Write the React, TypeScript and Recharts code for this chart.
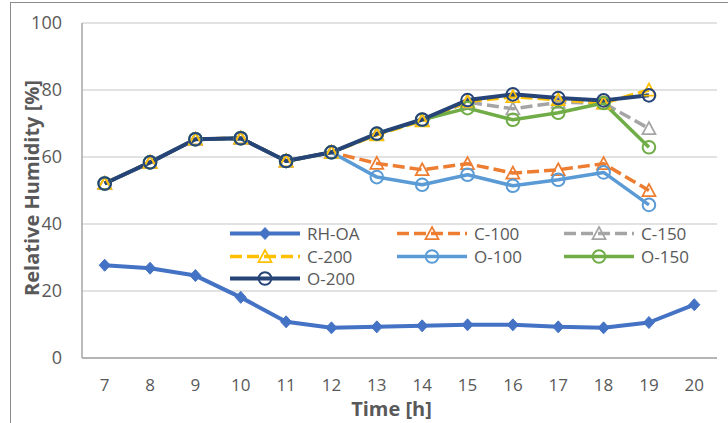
import React from 'react';
import { LineChart, Line, XAxis, YAxis, CartesianGrid, Legend } from 'recharts';

const hours = [7, 8, 9, 10, 11, 12, 13, 14, 15, 16, 17, 18, 19, 20];
const rhOA = [27.7, 26.8, 24.6, 18.1, 10.8, 9.0, 9.3, 9.6, 9.9, 9.9, 9.3, 9.0, 10.6, 15.9];
const c100 = [52.1, 58.4, 65.3, 65.6, 58.8, 61.4, 58.1, 56.2, 58.0, 55.2, 56.2, 58.0, 50.0, null];
const c150 = [52.1, 58.4, 65.3, 65.6, 58.8, 61.4, 66.8, 71.0, 76.4, 74.4, 76.3, 76.1, 68.5, null];
const c200 = [52.1, 58.4, 65.3, 65.6, 58.8, 61.4, 66.6, 70.8, 76.6, 78.0, 77.1, 76.1, 80.0, null];
const o100 = [52.1, 58.4, 65.3, 65.6, 58.8, 61.4, 54.0, 51.7, 54.7, 51.4, 53.2, 55.4, 45.7, null];
const o150 = [52.1, 58.4, 65.3, 65.6, 58.8, 61.4, 66.9, 71.1, 74.6, 71.1, 73.2, 76.1, 62.9, null];
const o200 = [52.1, 58.4, 65.3, 65.6, 58.8, 61.4, 67.0, 71.2, 77.0, 78.7, 77.6, 76.9, 78.4, null];
const yTicks = [0, 20, 40, 60, 80, 100];

const data = hours.map((h, i) => ({
  hour: h,
  'RH-OA': rhOA[i],
  'C-100': c100[i],
  'C-150': c150[i],
  'C-200': c200[i],
  'O-100': o100[i],
  'O-150': o150[i],
  'O-200': o200[i],
}));

type Marker = 'diamond' | 'triangle' | 'circle';
interface SeriesCfg { key: string; color: string; dashed: boolean; marker: Marker; width: number; }

const series: SeriesCfg[] = [
  { key: 'RH-OA', color: '#4472C4', dashed: false, marker: 'diamond', width: 4 },
  { key: 'C-100', color: '#ED7D31', dashed: true, marker: 'triangle', width: 3.5 },
  { key: 'C-150', color: '#A5A5A5', dashed: true, marker: 'triangle', width: 3.5 },
  { key: 'C-200', color: '#FFC000', dashed: true, marker: 'triangle', width: 3.5 },
  { key: 'O-100', color: '#5B9BD5', dashed: false, marker: 'circle', width: 3.5 },
  { key: 'O-150', color: '#70AD47', dashed: false, marker: 'circle', width: 3.5 },
  { key: 'O-200', color: '#264478', dashed: false, marker: 'circle', width: 4 },
];

const FONT = '"Open Sans", sans-serif';
const TXT = '#595959';
const XPAD = 22.7;

function markerShape(marker: Marker, cx: number, cy: number, color: string, key?: any) {
  if (marker === 'diamond') {
    return (
      <polygon key={key} points={`${cx},${cy - 6} ${cx + 5.5},${cy} ${cx},${cy + 6} ${cx - 5.5},${cy}`} fill={color} stroke={color} strokeWidth={1} />
    );
  }
  if (marker === 'triangle') {
    return (
      <polygon key={key} points={`${cx},${cy - 6.5} ${cx + 6.5},${cy + 5.5} ${cx - 6.5},${cy + 5.5}`} fill="none" stroke={color} strokeWidth={1.75} />
    );
  }
  return <circle key={key} cx={cx} cy={cy} r={6.3} fill="none" stroke={color} strokeWidth={2} />;
}

function makeDot(cfg: SeriesCfg) {
  return (props: any) => {
    const { cx, cy, index, value } = props;
    if (cx == null || cy == null || value == null || isNaN(cx) || isNaN(cy)) {
      return <g key={`e-${cfg.key}-${index}`} />;
    }
    return markerShape(cfg.marker, cx, cy, cfg.color, `d-${cfg.key}-${index}`);
  };
}

const legendCols = [230, 397, 564];
const legendRows = [233.5, 256.5, 278.5];
const LEG_LEFT = 220;
const LEG_TOP = 220;

function renderLegend() {
  return (
    <svg width={470} height={72} style={{ overflow: 'visible' }}>
      {series.map((s, i) => {
        const x = legendCols[i % 3] - LEG_LEFT;
        const y = legendRows[Math.floor(i / 3)] - LEG_TOP;
        return (
          <g key={s.key}>
            <line x1={x} y1={y} x2={x + 70} y2={y} stroke={s.color} strokeWidth={s.width} strokeDasharray={s.dashed ? '12 5' : undefined} />
            {markerShape(s.marker, x + 35, y, s.color)}
            <text x={x + 77} y={y} dominantBaseline="central" fontFamily={FONT} fontSize={17} fill={TXT}>{s.key}</text>
          </g>
        );
      })}
    </svg>
  );
}

export default function App() {
  return (
    <div style={{ position: 'absolute', left: 0, top: 0, width: 728, height: 423, background: '#fff' }}>
      <div style={{ position: 'absolute', left: 10, top: 2, width: 718, height: 421, borderTop: '1.5px solid #8a8a8a', borderLeft: '1.5px solid #8a8a8a' }} />
      <div style={{ position: 'absolute', left: 0, top: 0 }}>
        <LineChart width={728} height={423} data={data} margin={{ top: 23, right: 11, left: 0, bottom: 0 }}>
          <CartesianGrid vertical={false} stroke="#d9d9d9" strokeWidth={1.5} />
          <XAxis
            dataKey="hour"
            tickSize={0}
            tickMargin={21}
            tickLine={false}
            height={65}
            padding={{ left: XPAD, right: XPAD }}
            axisLine={{ stroke: '#a6a6a6', strokeWidth: 1.5 }}
            tick={{ fill: TXT, fontSize: 17, fontFamily: FONT }}
            interval={0}
            label={(p: any) => {
              const vb = p.viewBox;
              return (
                <text x={vb.x + vb.width / 2 - 8} y={416} textAnchor="middle" fontFamily={FONT} fontWeight="bold" fontSize={20} fill={TXT}>Time [h]</text>
              );
            }}
          />
          <XAxis xAxisId="top" dataKey="hour" orientation="top" height={0} padding={{ left: XPAD, right: XPAD }} tick={false} tickLine={false} axisLine={{ stroke: '#a6a6a6', strokeWidth: 1.5 }} />
          <YAxis
            domain={[0, 100]}
            ticks={yTicks}
            width={82}
            tickSize={0}
            tickMargin={20}
            tickLine={false}
            axisLine={{ stroke: '#a6a6a6', strokeWidth: 1.5 }}
            tick={{ fill: TXT, fontSize: 18, fontFamily: FONT }}
            label={() => (
              <text x={39} y={188} transform="rotate(-90, 39, 188)" textAnchor="middle" fontFamily={FONT} fontWeight="bold" fontSize={20} fill={TXT}>Relative Humidity [%]</text>
            )}
          />
          <YAxis yAxisId="right" orientation="right" width={0} domain={[0, 100]} tick={false} tickLine={false} axisLine={{ stroke: '#a6a6a6', strokeWidth: 1.5 }} />
          <Legend
            layout="horizontal"
            verticalAlign="middle"
            align="center"
            content={renderLegend}
            wrapperStyle={{ position: 'absolute', left: LEG_LEFT, top: LEG_TOP, width: 470, height: 72 }}
          />
          {series.map((s) => (
            <Line
              key={s.key}
              dataKey={s.key}
              stroke={s.color}
              strokeWidth={s.width}
              strokeDasharray={s.dashed ? '12 5' : undefined}
              dot={makeDot(s)}
              activeDot={false}
              isAnimationActive={false}
              strokeLinejoin="round"
            />
          ))}
        </LineChart>
      </div>
    </div>
  );
}
